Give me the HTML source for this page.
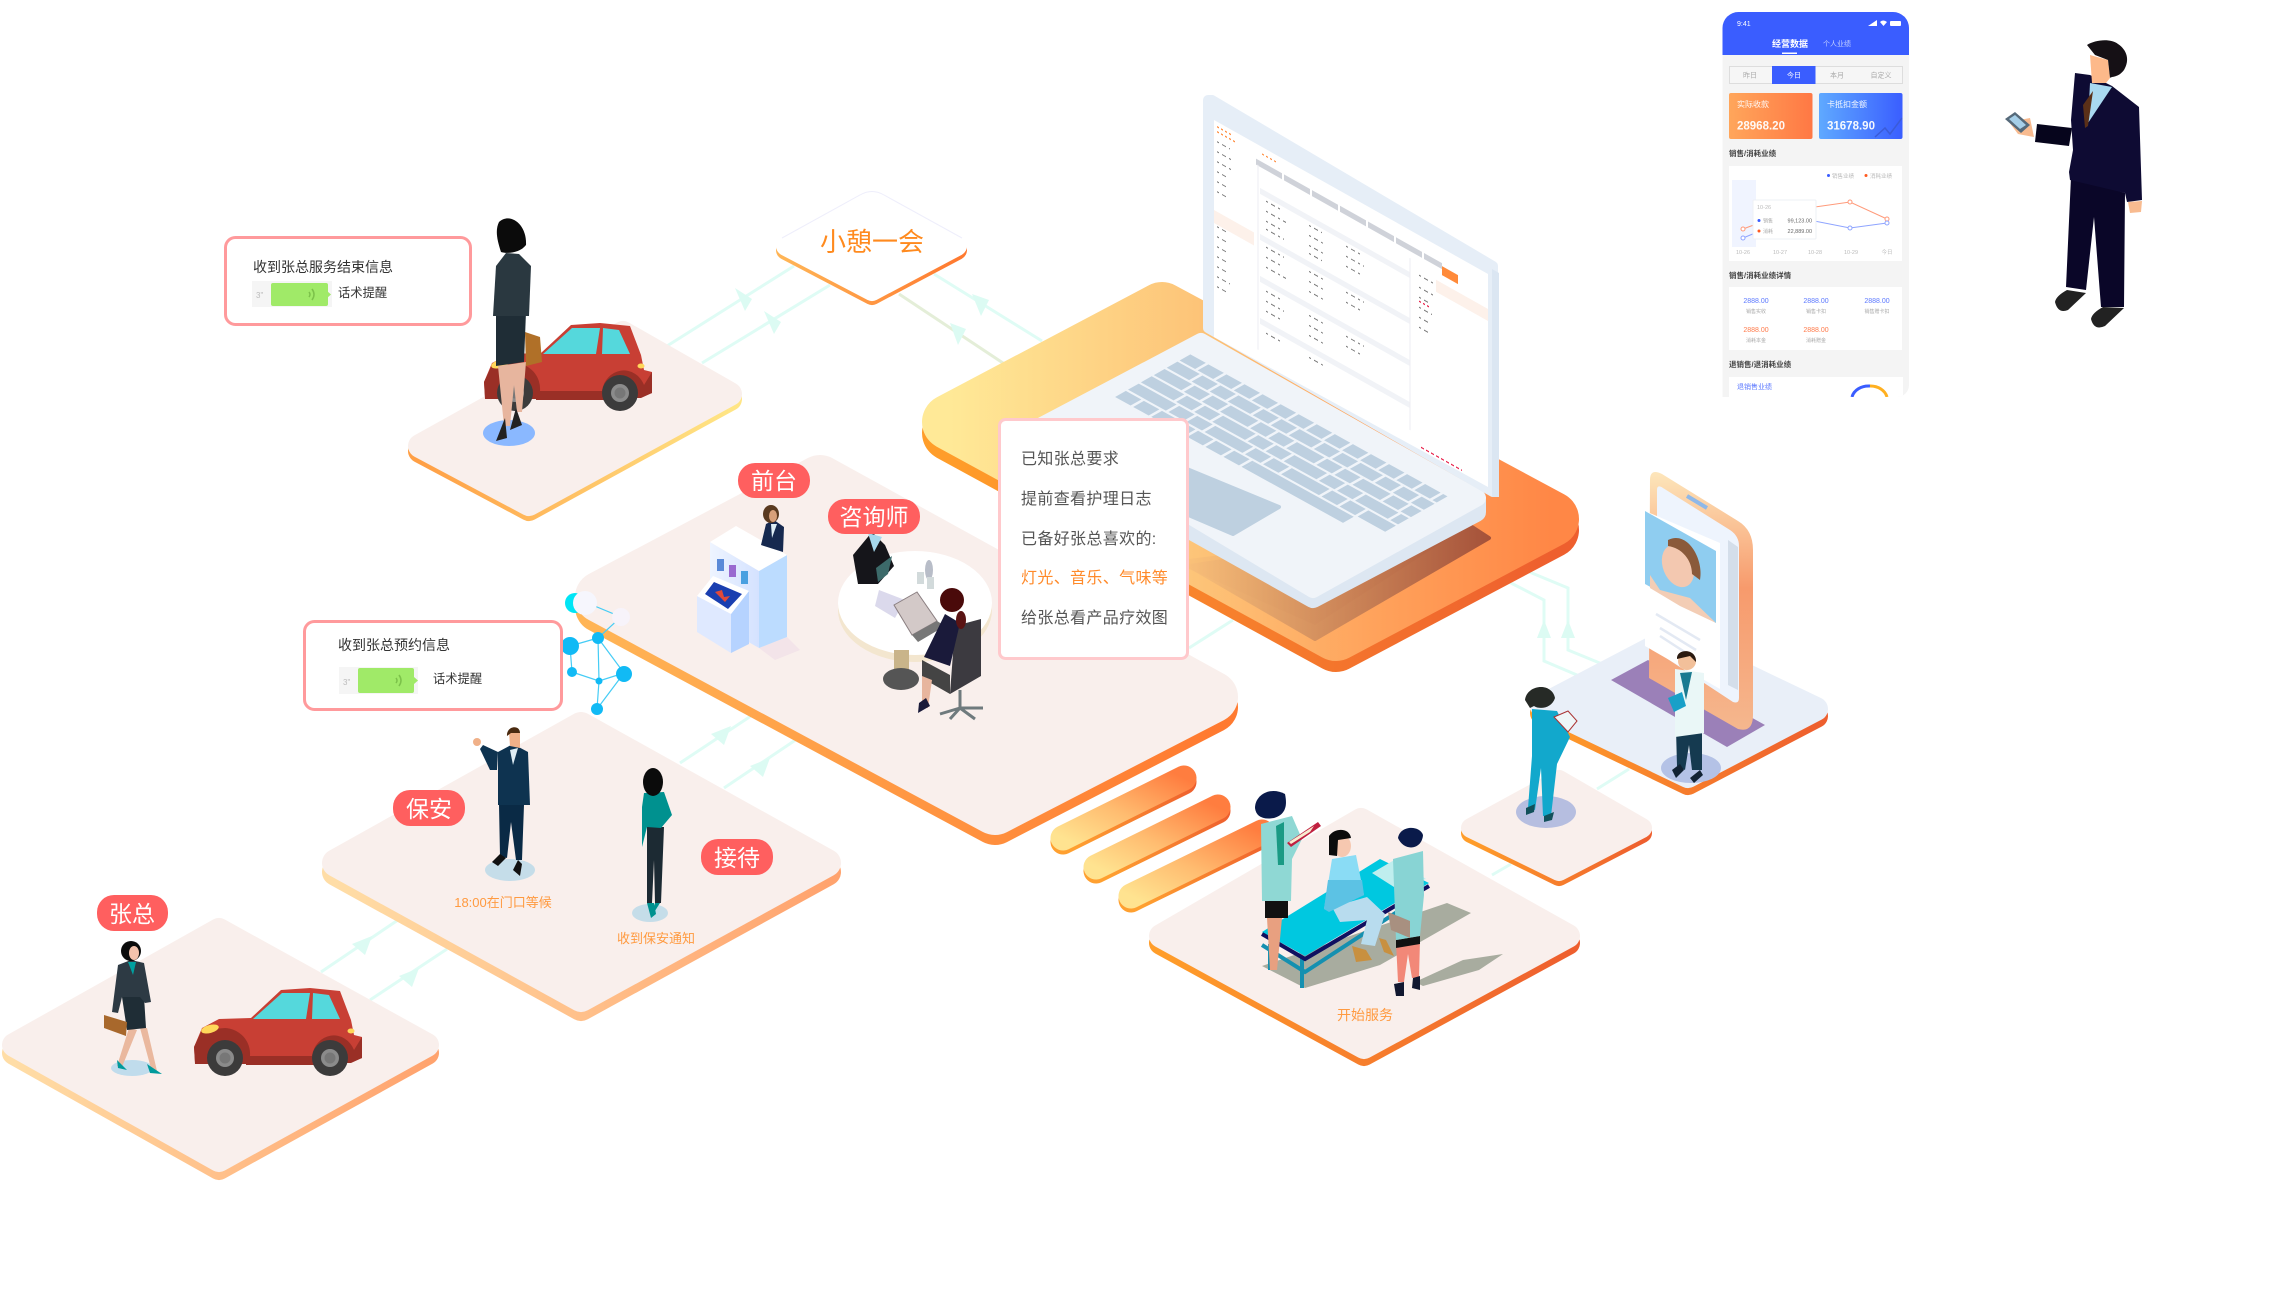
<!DOCTYPE html>
<html lang="zh"><head><meta charset="utf-8"><title>流程图</title>
<style>html,body{margin:0;padding:0;background:#fff}svg{display:block}text{font-family:"Liberation Sans","Noto Sans CJK SC",sans-serif}</style></head>
<body>
<svg xmlns="http://www.w3.org/2000/svg" width="2288" height="1316" viewBox="0 0 2288 1316">
<defs>
<linearGradient id="rA"><stop offset="0" stop-color="#ffdda6"/><stop offset="1" stop-color="#ffa36e"/></linearGradient>
<linearGradient id="rD"><stop offset="0" stop-color="#ff9f45"/><stop offset="1" stop-color="#ffe585"/></linearGradient>
<linearGradient id="rC"><stop offset="0" stop-color="#ffb455"/><stop offset="1" stop-color="#ff7a30"/></linearGradient>
<linearGradient id="rO"><stop offset="0" stop-color="#ff9d2a"/><stop offset="1" stop-color="#ee5f2e"/></linearGradient>
<linearGradient id="lap"><stop offset="0" stop-color="#ffe997"/><stop offset=".4" stop-color="#fdc579"/><stop offset=".7" stop-color="#ffa35c"/><stop offset="1" stop-color="#ff8746"/></linearGradient>
<linearGradient id="shd"><stop offset="0" stop-color="#f9c07a"/><stop offset="1" stop-color="#a5523a"/></linearGradient>
<linearGradient id="bar" x1="0" y1="1" x2="1" y2="0"><stop offset="0" stop-color="#ffe390"/><stop offset=".45" stop-color="#ffbc70"/><stop offset="1" stop-color="#ff7d3f"/></linearGradient>
<linearGradient id="brim" x1="0" y1="1" x2="1" y2="0"><stop offset="0" stop-color="#ffa030"/><stop offset="1" stop-color="#ee5f2e"/></linearGradient>
<linearGradient id="ph" x1="0" y1="0" x2="0" y2="1"><stop offset="0" stop-color="#fde6bb"/><stop offset=".45" stop-color="#f79a6c"/><stop offset="1" stop-color="#f5b78e"/></linearGradient>
<linearGradient id="og"><stop offset="0" stop-color="#ffa65b"/><stop offset="1" stop-color="#ff7844"/></linearGradient>
<linearGradient id="bg"><stop offset="0" stop-color="#5fa9ff"/><stop offset="1" stop-color="#3a5eff"/></linearGradient>
<linearGradient id="ki"><stop offset="0" stop-color="#eef4ff"/><stop offset="1" stop-color="#d4e2ff"/></linearGradient>
<clipPath id="pc"><path d="M1722.500 397V28a16 16 0 0 1 16-16h154.500a16 16 0 0 1 16 16V385a12 12 0 0 1-12 12z"/></clipPath>
<g id="car">
<path d="M194 1047L202 1028 219 1019 251 1018 281 990 310 988 340 991 351 1020 354 1035 362 1037V1058L351 1062H195z" fill="#c83f34"/>
<rect x="246" y="1056" width="70" height="9" fill="#9a2f26"/>
<path d="M194 1047L202 1030 225 1028A26 26 0 0 1 250 1056V1064H195z" fill="#9a2f26"/>
<path d="M312 1056A22 24 0 0 1 354 1050L362 1037V1058L351 1063H312z" fill="#9a2f26"/>
<path d="M253 1019L282 993 310 993 306 1019z" fill="#55d8dc"/>
<path d="M312 1019L313 993 329 995 340 1019z" fill="#55d8dc"/>
<circle cx="225" cy="1058" r="18" fill="#3c3b3b"/><circle cx="225" cy="1058" r="9" fill="#8b8b8b"/><circle cx="225" cy="1058" r="5.500" fill="#777"/>
<circle cx="330" cy="1058" r="18" fill="#3c3b3b"/><circle cx="330" cy="1058" r="9" fill="#8b8b8b"/><circle cx="330" cy="1058" r="5.500" fill="#777"/>
<ellipse cx="210" cy="1029" rx="9" ry="4" fill="#ffd75a" transform="rotate(-15 210 1029)"/>
<ellipse cx="351" cy="1031" rx="3.500" ry="2.500" fill="#ffd75a"/>
</g>
</defs>

<!-- connectors -->
<g fill="none" stroke="#dffcf5" stroke-width="3">
<path d="M321 972L398 920M370 1000L447 949M680 763L757 712M724 788L800 737M1189 648L1233 620M667 346L794 266M702 363L830 285M934 274L1042 341"/>
<path d="M899 294L1006 365" stroke="#e4eed8"/>
<path d="M1527 571L1568 588V650L1607 666M1509 582L1544 600V661L1584 678M1597 789L1629 769M1492 875L1511 864"/>
</g>
<g fill="#dcfbf3">
<path d="M372 936L352 944 365 955z"/><path d="M419 968L399 976 412 987z"/><path d="M731 726L711 734 724 745z"/><path d="M770 758L750 766 763 777z"/>
<path d="M735 288L745 311 752 299z"/><path d="M764 311L774 334 781 322z"/>
<path d="M972 294L981 316 989 300z"/><path d="M950 323L958 345 966 329z"/>
<path d="M1568 620L1561 638H1575z"/><path d="M1544 620L1537 638H1551z"/>
</g>

<!-- laptop platform -->
<g stroke-linejoin="round">
<polygon points="1162,310 1551,519 1336,633 950,422" transform="translate(0 11)" fill="url(#rO)" stroke="url(#rO)" stroke-width="56"/>
<polygon points="1162,310 1551,519 1336,633 950,422" fill="url(#lap)" stroke="url(#lap)" stroke-width="56"/>
</g>
<polygon points="1189,566 1469,525 1489,538 1315,639" fill="url(#shd)" stroke="url(#shd)" stroke-width="4" stroke-linejoin="round"/>
<path d="M1180 560L1469 525 1315 625 1180 565z" fill="url(#shd)" opacity=".5"/>

<!-- laptop -->
<g stroke-linejoin="round">
<polygon points="1040,432 1201,345 1476,501 1476,512 1313,598 1040,445" fill="#dde7f2" stroke="#dde7f2" stroke-width="20"/>
<polygon points="1040,426 1201,341 1478,498 1313,590" fill="#f0f4f9" stroke="#f0f4f9" stroke-width="16"/>
</g>
<g transform="matrix(.86 .475 -.86 .487 1191 354)" fill="none" stroke="#bed0e0" stroke-width="12.500">
<line x1="0" x2="299" y1="7" y2="7" stroke-dasharray="18 3"/>
<line x1="0" x2="299" y1="22" y2="22" stroke-dasharray="26 3 18 3 18 3"/>
<line x1="0" x2="299" y1="37" y2="37" stroke-dasharray="32 3 18 3 18 3"/>
<line x1="0" x2="299" y1="52" y2="52" stroke-dasharray="38 3 18 3 18 3"/>
<line x1="0" x2="299" y1="67" y2="67" stroke-dasharray="44 3 18 3 18 3"/>
<line x1="0" x2="150" y1="82" y2="82" stroke-dasharray="18 3"/>
<line x1="150" x2="265" y1="82" y2="82"/>
</g>
<polygon points="1130,490 1182,467 1279,507 1233,534" fill="#bed0e0" stroke="#bed0e0" stroke-width="4" stroke-linejoin="round"/>
<polygon points="1212,100 1493,266 1493,492 1208,328 1208,100" fill="#e6eef7" stroke="#e6eef7" stroke-width="10" stroke-linejoin="round"/>
<polygon points="1492,269 1499,273 1499,497 1492,497" fill="#dbe6f2"/>
<polygon points="1214,120 1488,274 1488,487 1214,337" fill="#fff"/>
<g transform="matrix(1 .562 0 1 1214 120)">
<line x1="42" x2="228" y1="18" y2="18" stroke="#cfd2d9" stroke-width="6" stroke-dasharray="26 2"/>
<rect x="228" y="18" width="16" height="9" fill="#ff8a3a"/>
<rect x="0" y="90" width="40" height="13" fill="#fdf1ea"/>
<rect x="222" y="35" width="52" height="12" fill="#fdf1ea"/>
<rect x="46" y="42" width="150" height="6" fill="#f1f3f7"/>
<rect x="46" y="88" width="150" height="6" fill="#f1f3f7"/>
<rect x="46" y="130" width="150" height="6" fill="#f1f3f7"/>
<rect x="46" y="172" width="150" height="6" fill="#f1f3f7"/>
<line x1="44" x2="44" y1="20" y2="205" stroke="#eeeef3"/>
<line x1="196" x2="196" y1="28" y2="200" stroke="#eeeef3"/>
<g stroke="#555" stroke-width="1.100" stroke-dasharray="2 3 4 3" opacity=".8">
<path d="M3 20H16M3 30H18M3 40H18M3 50H14M3 60H14M3 70H12M3 105H12M3 115H12M3 125H14M3 135H14M3 145H14M3 155H16M3 165H12"/>
<path d="M52 52H68M95 52H108M132 52H146M52 62H72M95 62H110M132 62H150M52 72H66M95 72H112M132 72H148M52 80H70M95 80H108"/>
<path d="M52 98H70M95 98H112M132 98H150M52 108H66M95 108H110M132 108H146M52 118H72M95 118H112"/>
<path d="M52 142H68M95 142H110M132 142H150M52 152H70M95 152H112M132 152H148M52 162H66M95 162H110"/>
<path d="M52 184H68M95 184H110M205 40H222M205 52H220M205 62H216M205 72H218M205 82H216M205 92H214"/>
</g>
<g stroke="#ff8a3a" stroke-width="1.300" stroke-dasharray="2 2"><path d="M3 5H18M3 10H22M48 7H62"/></g>
<path d="M207 211H248" stroke="#e8204a" stroke-width="1.300" stroke-dasharray="3 2"/>
<path d="M205 66H215" stroke="#e8204a" stroke-width="1.300" stroke-dasharray="2 2"/>
</g>

<!-- other platforms -->
<g stroke-linejoin="round">
<polygon points="219,930 427,1045 219,1160 14,1045" transform="translate(0 8)" fill="url(#rA)" stroke="url(#rA)" stroke-width="24"/>
<polygon points="219,930 427,1045 219,1160 14,1045" fill="#f9efec" stroke="#f9efec" stroke-width="24"/>
<polygon points="581,726 827,863 581,998 336,863" transform="translate(0 9)" fill="url(#rA)" stroke="url(#rA)" stroke-width="28"/>
<polygon points="581,726 827,863 581,998 336,863" fill="#f9efec" stroke="#f9efec" stroke-width="28"/>
<polygon points="820,481 1212,697 995,809 601,597" transform="translate(0 10)" fill="url(#rC)" stroke="url(#rC)" stroke-width="52"/>
<polygon points="820,481 1212,697 995,809 601,597" fill="#f9efec" stroke="#f9efec" stroke-width="52"/>
<polygon points="623,333 730,394 529,504 420,446" transform="translate(0 5)" fill="url(#rD)" stroke="url(#rD)" stroke-width="24"/>
<polygon points="623,333 730,394 529,504 420,446" fill="#f9efec" stroke="#f9efec" stroke-width="24"/>
<polygon points="872,200 957,246 872,291 786,246" transform="translate(0 4)" fill="url(#rC)" stroke="url(#rC)" stroke-width="20"/>
<polygon points="872,200 957,246 872,291 786,246" fill="#fff" stroke="#fff" stroke-width="20"/>
<polygon points="1670,639 1816,709 1688,776 1542,706" transform="translate(0 7)" fill="url(#rO)" stroke="url(#rO)" stroke-width="24"/>
<polygon points="1670,639 1816,709 1688,776 1542,706" fill="#e9eff8" stroke="#e9eff8" stroke-width="24"/>
<polygon points="1559,780 1642,828 1559,871 1471,828" transform="translate(0 5)" fill="url(#rO)" stroke="url(#rO)" stroke-width="20"/>
<polygon points="1559,780 1642,828 1559,871 1471,828" fill="#f9efec" stroke="#f9efec" stroke-width="20"/>
<polygon points="1361,820 1568,936 1364,1047 1161,936" transform="translate(0 7)" fill="url(#rO)" stroke="url(#rO)" stroke-width="24"/>
<polygon points="1361,820 1568,936 1364,1047 1161,936" fill="#f9efec" stroke="#f9efec" stroke-width="24"/>
</g>
<path d="M782 238L860 195Q872 188 884 195L962 238" fill="none" stroke="#eeeefb" stroke-width="1"/>

<!-- bars -->
<g fill="none" stroke-width="25" stroke-linecap="round">
<path d="M1063 842L1184 782" stroke="url(#brim)"/><path d="M1096 871L1218 811" stroke="url(#brim)"/><path d="M1131 900L1262 836" stroke="url(#brim)"/>
<path d="M1063 838L1184 778" stroke="url(#bar)"/>
<path d="M1096 867L1218 807" stroke="url(#bar)"/>
<path d="M1131 896L1262 832" stroke="url(#bar)"/>
</g>

<!-- car A + woman -->
<use href="#car"/>
<ellipse cx="132" cy="1068" rx="21" ry="8" fill="#c0dcec"/>
<path d="M129 1028L117 1066 122 1067 137 1030zM140 1028L152 1072 157 1071 147 1028z" fill="#eab89e"/>
<path d="M117 1060L118 1068 127 1070zM147 1064L162 1074 150 1073z" fill="#009a9c"/>
<path d="M122 997H144L146 1028 127 1030z" fill="#1f2d36"/>
<path d="M118 965L131 960 144 963 151 1002 145 1003 140 997H122L118 1013 112 1012z" fill="#2d3a44"/>
<path d="M128 962L136 962 133 975z" fill="#00a0a0"/>
<ellipse cx="131" cy="951" rx="10" ry="10" fill="#0c0c0c"/><ellipse cx="134" cy="953" rx="5" ry="7" fill="#f3c2ac"/>
<path d="M104 1015L127 1022 126 1036 104 1028z" fill="#a8682c"/>

<!-- security -->
<ellipse cx="510" cy="870" rx="25" ry="11" fill="#c5dde9"/>
<path d="M499 805H524L522 860 516 860 511 822 507 858 500 856z" fill="#0a2a45"/>
<path d="M498 752L513 744 528 752 530 805H498z" fill="#0e3350"/>
<path d="M498 752L483 745 480 749 490 770 497 770z" fill="#0e3350"/>
<circle cx="477" cy="742" r="4" fill="#f0b088"/>
<path d="M509 732H520L520 748 510 746z" fill="#f0b088"/><path d="M507 736C506 726 520 724 520 733L511 733z" fill="#4a2a10"/>
<path d="M510 750L518 748 513 765z" fill="#dfeef5"/>
<path d="M492 862L500 854 506 858 498 866zM513 870L518 860 522 864 520 876z" fill="#111"/>

<!-- reception -->
<ellipse cx="650" cy="913" rx="18" ry="9" fill="#c5dde9"/>
<path d="M647 827H664L661 903 655 903 654 860 652 903 647 903z" fill="#1c2a33"/>
<path d="M644 793L664 792 672 815 661 828 647 827 642 847 642 807z" fill="#00918f"/>
<ellipse cx="653" cy="782" rx="10" ry="14" fill="#0b0b0b"/>
<path d="M647 903L651 918 656 914 654 903zM655 903L653 914 660 903z" fill="#00918f"/>

<!-- car B + woman -->
<g transform="translate(290 -665)"><use href="#car"/></g>
<ellipse cx="509" cy="433" rx="26" ry="13" fill="#8ab8ff"/>
<path d="M498 366L526 362 522 412 517 412 514 385 510 426 504 426z" fill="#e7b59e"/>
<path d="M505 418L496 441 507 438zM516 408L510 430 522 425z" fill="#222"/>
<path d="M525 332L540 337 542 362 526 366z" fill="#b07028"/>
<path d="M496 314L526 312 524 362 496 366z" fill="#1f2d36"/>
<path d="M506 253L519 254 531 266 529 316 493 316 496 266z" fill="#2a3840"/>
<path d="M499 222C510 212 527 224 526 245 520 253 507 254 501 252 497 240 495 230 499 222z" fill="#0b0b0b"/>

<!-- rest label -->
<text x="872" y="251" font-size="26" fill="#ff8a1e" text-anchor="middle">小憩一会</text>

<!-- round table & people -->
<ellipse cx="915" cy="610" rx="77" ry="52" fill="#f3e6cf"/>
<ellipse cx="915" cy="603" rx="77" ry="52" fill="#fff"/>
<rect x="894" y="650" width="15" height="26" fill="#c9b48a"/>
<ellipse cx="901" cy="679" rx="18" ry="11" fill="#555"/>
<path d="M879 590L905 600 895 618 875 606z" fill="#dbd9ec"/>
<ellipse cx="929" cy="570" rx="4" ry="10" fill="#b8bdc8"/>
<rect x="917" y="572" width="7" height="12" fill="#d2dadb"/><rect x="927" y="577" width="7" height="12" fill="#d2dadb"/>
<path d="M853 555L872 532 885 545 894 566 878 584 858 584z" fill="#15151a"/>
<path d="M868 533L882 537 874 552z" fill="#a6d8ec"/>
<path d="M876 568L892 556 888 574 878 582z" fill="#3c6a6a"/>
<polygon points="894,605 917,592 937,621 912,635" fill="#d3c9c8" stroke="#8a7e80"/>
<polygon points="912,635 937,621 945,626 918,642" fill="#777"/>
<path d="M922 660L950 675 950 694 922 678z" fill="#444"/>
<path d="M922 676V708L928 708 932 680z" fill="#e7b59e"/>
<path d="M919 703L926 698 930 706 918 713z" fill="#1a1a3a"/>
<path d="M955 626L981 619 981 676 950 694z" fill="#3c3a40"/>
<path d="M945 614L960 623 950 666 924 657z" fill="#1a1a3a"/>
<circle cx="952" cy="600" r="12" fill="#4a0a0a"/>
<ellipse cx="961" cy="620" rx="5" ry="9" fill="#5a1414"/>
<g stroke="#6f7a7d" stroke-width="3" fill="none"><path d="M960 690V708M960 708L940 714M960 708L983 708M960 708L975 719M960 708L950 719"/></g>

<!-- kiosk -->
<path d="M759 648L787 637 800 650 775 660z" fill="#f3e4e9"/>
<polygon points="710,542 759,571 759,648 710,620" fill="url(#ki)"/>
<polygon points="759,571 787,555 787,637 759,648" fill="#bcdcff"/>
<polygon points="710,542 736,526 787,555 759,571" fill="#fff"/>
<polygon points="731,614 749,591 749,644 731,653" fill="#b6d3ff"/>
<polygon points="697,596 731,614 731,653 697,632" fill="#dfe9ff"/>
<polygon points="713,576 749,591 731,614 697,596" fill="#fff"/>
<polygon points="714,582 742,594 728,609 705,594" fill="#1a3fb0"/>
<path d="M715 592L722 590 724 597 730 596 725 602z" fill="#e04a3a"/>
<rect x="717" y="559" width="7" height="12" fill="#5a8ad8"/><rect x="729" y="565" width="7" height="12" fill="#9a6ad0"/><rect x="741" y="571" width="7" height="13" fill="#4aa0e0"/>
<path d="M761 545L766 524 774 520 784 527 783 552z" fill="#16294f"/>
<ellipse cx="771" cy="514" rx="8" ry="9" fill="#5a3a20"/><ellipse cx="773" cy="516" rx="4" ry="6" fill="#d8a07a"/>
<path d="M771 524L777 524 772 538z" fill="#dfeef5"/>

<!-- molecule -->
<g fill="none" stroke="#45ccf5" stroke-width="1.200">
<path d="M570 646L598 638 624 673 599 681 572 672 570 646M598 638L599 681M624 673L597 709 599 681M598 638L621 617 585 602"/>
</g>
<g fill="#11baf5">
<circle cx="570" cy="646" r="9"/><circle cx="598" cy="638" r="6"/><circle cx="572" cy="672" r="5"/><circle cx="599" cy="681" r="3.500"/><circle cx="624" cy="674" r="8"/><circle cx="597" cy="709" r="6"/>
</g>
<circle cx="575" cy="603" r="10" fill="#00e5f5"/><circle cx="585" cy="603" r="12" fill="#f6f6fd"/><circle cx="621" cy="617" r="9" fill="#f7f3fa"/>

<!-- info boxes -->
<g fill="#fff" stroke="#ff9a9c" stroke-width="3">
<rect x="225.500" y="237.500" width="245" height="87" rx="10"/>
<rect x="304.500" y="621.500" width="257" height="88" rx="10"/>
</g>
<text x="253" y="272" font-size="14" fill="#333">收到张总服务结束信息</text>
<rect x="252" y="281" width="80" height="26" fill="#f5f5f5"/><rect x="271" y="283" width="57" height="23" rx="2" fill="#a0ea68"/>
<path d="M327 291L331 294.500 327 298z" fill="#a0ea68"/><path d="M312 289Q316 294.500 312 300M309 292Q311 294.500 309 297" fill="none" stroke="#7cc24a" stroke-width="1.500"/>
<text x="256" y="298" font-size="8" fill="#bbb">3"</text>
<text x="338" y="297" font-size="12.300" fill="#333">话术提醒</text>
<text x="338" y="650" font-size="14" fill="#333">收到张总预约信息</text>
<rect x="339" y="667" width="79" height="27" fill="#f5f5f5"/><rect x="358" y="668" width="56" height="25" rx="2" fill="#a0ea68"/>
<path d="M414 677L418 680.500 414 684z" fill="#a0ea68"/><path d="M399 675Q403 680.500 399 686M396 678Q398 680.500 396 683" fill="none" stroke="#7cc24a" stroke-width="1.500"/>
<text x="343" y="685" font-size="8" fill="#bbb">3"</text>
<text x="433" y="683" font-size="12.300" fill="#333">话术提醒</text>

<!-- pills -->
<g fill="#ff5f5f">
<rect x="738" y="463" width="72" height="35" rx="17"/><rect x="828" y="499" width="92" height="35" rx="17"/>
<rect x="393" y="790" width="72" height="36" rx="17"/><rect x="701" y="839" width="72" height="36" rx="17"/><rect x="97" y="895" width="71" height="36" rx="17"/>
</g>
<g fill="#fff" font-size="23" text-anchor="middle">
<text x="774" y="489">前台</text><text x="874" y="525">咨询师</text><text x="429" y="817">保安</text><text x="737" y="866">接待</text><text x="132" y="922">张总</text>
</g>
<g fill="#ff9a40" font-size="13" text-anchor="middle">
<text x="503" y="907">18:00在门口等候</text><text x="656" y="943">收到保安通知</text>
<text x="1365" y="1020" font-size="14">开始服务</text>
</g>

<!-- card -->
<rect x="999.500" y="419.500" width="188" height="239" rx="6" fill="#fff" stroke="#ffc9cc" stroke-width="3"/>
<g font-size="16" fill="#555" letter-spacing=".35">
<text x="1021" y="464">已知张总要求</text><text x="1021" y="504">提前查看护理日志</text><text x="1021" y="544">已备好张总喜欢的:</text>
<text x="1021" y="583" fill="#ff8a2a">灯光、音乐、气味等</text><text x="1021" y="623">给张总看产品疗效图</text>
</g>

<!-- display phone -->
<polygon points="1611,680 1648,660 1765,725 1727,747" fill="#9b80b8"/>
<path d="M1650 480Q1650 468 1662 474L1738 521Q1753 530 1753 550V715Q1753 733 1738 729L1649 678z" fill="url(#ph)"/>
<path d="M1657 490Q1657 484 1663 488L1730 530Q1739 536 1739 546V698Q1739 704 1733 702L1657 652z" fill="#eef4fd"/>
<path d="M1728 540L1738 547V690L1728 685z" fill="#d4deea"/>
<path d="M1645 511L1720 543V689L1645 646z" fill="#fff"/>
<path d="M1645 511L1716 551V623L1645 584z" fill="#8fcdf0"/>
<ellipse cx="1678" cy="566" rx="15" ry="22" fill="#f3c8b0" transform="rotate(-22 1678 566)"/>
<path d="M1668 540C1688 530 1704 560 1700 580L1692 574C1692 560 1682 548 1668 546z" fill="#8a5a3a"/>
<path d="M1650 575L1660 590 1690 598 1716 623 1680 606 1650 588z" fill="#f3cdb5"/>
<path d="M1687 496L1707 508" stroke="#8fb8e8" stroke-width="4"/>
<path d="M1656 614L1700 640M1660 628L1696 650M1660 636L1694 658" stroke="#e3e9f3" stroke-width="2.500" fill="none"/>

<!-- doctor -->
<ellipse cx="1691" cy="768" rx="30" ry="15" fill="#b4c2e6"/>
<path d="M1676 729H1702L1702 770 1692 770 1689 745 1685 770 1677 766z" fill="#153a50"/>
<path d="M1675 669L1704 673 1704 733 1675 737z" fill="#eaf7f7"/>
<path d="M1668 698L1682 692 1686 706 1674 712z" fill="#18a0c8"/>
<circle cx="1687" cy="661" r="9" fill="#f2c09a"/><path d="M1677 659C1676 648 1697 648 1696 662L1690 656z" fill="#2a1a10"/>
<path d="M1680 673L1692 672 1686 700z" fill="#1a7a90"/>
<path d="M1672 770L1680 764 1684 770 1676 778zM1690 778L1700 770 1703 775 1694 783z" fill="#123"/>

<!-- nurse -->
<ellipse cx="1546" cy="812" rx="30" ry="16" fill="#b6bee0"/>
<path d="M1532 709L1557 711 1570 737 1557 764 1551 816 1543 816 1541 768 1535 810 1528 808 1532 756z" fill="#12a8cc"/>
<path d="M1554 717L1568 711 1577 721 1568 732z" fill="#eef6f8" stroke="#a33"/>
<path d="M1525 700C1527 684 1552 682 1555 698 1552 708 1540 710 1534 706L1530 708z" fill="#262a26"/>
<path d="M1526 808L1535 804 1534 812 1526 815zM1544 816L1554 812 1552 820 1544 822z" fill="#12505a"/>

<!-- service scene -->
<path d="M1262 966L1447 903 1471 913 1380 965 1305 988z" fill="#a8ac9f"/>
<path d="M1415 982L1463 960 1503 954 1479 970 1423 986z" fill="#a8ac9f"/>
<path d="M1270 944V970M1302 956V988M1262 945L1305 972 1400 910" fill="none" stroke="#1590b0" stroke-width="4"/>
<path d="M1262 932L1380 859 1429 883 1305 956z" fill="#00c8e0"/>
<path d="M1262 934L1305 959 1429 886" fill="none" stroke="#101060" stroke-width="4"/>
<path d="M1372 873L1396 859 1426 879 1394 887z" fill="#bfeeee"/>
<path d="M1265 901H1288V918H1265z" fill="#111"/>
<path d="M1267 918H1282L1277 970 1270 970z" fill="#e8a080"/>
<path d="M1261 824L1292 816 1302 839 1292 859 1291 901 1262 901z" fill="#8fd8d4"/>
<path d="M1276 826L1284 822 1284 865 1278 865z" fill="#1a9a84"/>
<path d="M1255 808C1255 795 1270 786 1285 794 1288 808 1284 815 1274 818 1262 820 1256 816 1255 808z" fill="#0a1a4a"/>
<path d="M1287 843L1318 822 1321 826 1291 847z" fill="#c02040"/><path d="M1289 842L1314 826 1310 832 1291 844z" fill="#f8ecd0"/>
<path d="M1332 907L1367 897 1385 914 1375 946 1361 944 1367 920 1340 922z" fill="#b8dcee"/>
<path d="M1352 946L1366 950 1372 960 1356 962zM1379 938L1386 940 1394 956 1384 952z" fill="#c89040"/>
<path d="M1324 909L1332 859 1356 855 1364 895 1329 910z" fill="#8adcf5"/>
<path d="M1324 909L1328 880 1362 880 1364 895 1329 912z" fill="#5cc2e4"/>
<ellipse cx="1342" cy="846" rx="9" ry="11" fill="#f6c8b0"/>
<path d="M1329 855V836C1335 827 1350 828 1351 838L1338 840 1337 856z" fill="#0c0c0c"/>
<path d="M1396 942L1420 940 1419 978 1412 978 1408 954 1404 982 1398 982z" fill="#f28878"/>
<path d="M1396 940V948L1420 944V936z" fill="#111"/>
<path d="M1394 984L1404 982 1404 996 1396 996zM1413 978L1420 976 1420 990 1412 988z" fill="#111830"/>
<path d="M1393 859L1423 851 1424 895 1420 936 1396 940z" fill="#88d4d4"/>
<path d="M1388 912L1410 921 1410 938 1391 930z" fill="#a89080"/>
<path d="M1398 838C1400 825 1420 825 1423 835 1422 850 1404 852 1398 838z" fill="#0a1a4a"/>

<!-- app phone -->
<g clip-path="url(#pc)">
<rect x="1722" y="12" width="187" height="385" fill="#f4f4f4"/>
<rect x="1722" y="12" width="187" height="43" fill="#3a5dff"/>
<text x="1737" y="26" font-size="7" fill="#fff">9:41</text>
<rect x="1890" y="21" width="11" height="5" rx="1" fill="#fff"/><path d="M1868 26H1877V20z" fill="#fff"/><path d="M1880 22Q1883 19 1887 22L1883.500 26z" fill="#fff"/>
<text x="1772" y="47" font-size="9" font-weight="700" fill="#fff">经营数据</text>
<text x="1823" y="46" font-size="7" fill="#c3d0ff">个人业绩</text>
<rect x="1782" y="52.500" width="15" height="1.500" fill="#fff"/>
<rect x="1729.500" y="66.500" width="173" height="17" fill="#f6f6f6" stroke="#ddd"/>
<rect x="1772" y="66" width="43.500" height="18" fill="#3a5dff"/>
<g font-size="7" text-anchor="middle" fill="#aaa"><text x="1750" y="77.500">昨日</text><text x="1794" y="77.500" fill="#fff">今日</text><text x="1837" y="77.500">本月</text><text x="1881" y="77.500">自定义</text></g>
<rect x="1729" y="93" width="83.500" height="46" rx="2" fill="url(#og)"/><rect x="1819" y="93" width="83.500" height="46" rx="2" fill="url(#bg)"/>
<path d="M1875 137L1885 128 1890 134 1902 118" fill="none" stroke="#3a5bd8" stroke-width="1.500"/>
<g fill="#fff" opacity=".95"><text x="1737" y="107" font-size="8">实际收款</text><text x="1827" y="107" font-size="8">卡抵扣金额</text>
<text x="1737" y="129.500" font-size="11.500" font-weight="700">28968.20</text><text x="1827" y="129.500" font-size="11.500" font-weight="700">31678.90</text></g>
<g font-size="7.500" font-weight="700" fill="#444"><text x="1729" y="156">销售/消耗业绩</text><text x="1729" y="278">销售/消耗业绩详情</text><text x="1729" y="367">退销售/退消耗业绩</text></g>
<rect x="1729" y="166" width="173" height="95" fill="#fff"/>
<rect x="1732" y="180" width="24" height="67" fill="#f0f4ff"/>
<circle cx="1828.500" cy="175.500" r="1.500" fill="#3a5dff"/><circle cx="1866" cy="175.500" r="1.500" fill="#ff5a20"/>
<text x="1832" y="178" font-size="5.500" fill="#bbb">销售业绩</text><text x="1870" y="178" font-size="5.500" fill="#bbb">消耗业绩</text>
<path d="M1743 229L1794 210 1850 202 1887 219" fill="none" stroke="#ff9a7a" stroke-width="1"/>
<path d="M1743 238L1794 217 1850 228 1887 223" fill="none" stroke="#8ea4ff" stroke-width="1"/>
<g fill="#fff" stroke-width="1"><circle cx="1743" cy="229" r="2" stroke="#ff9a7a"/><circle cx="1850" cy="202" r="2" stroke="#ff9a7a"/><circle cx="1887" cy="219" r="2" stroke="#ff9a7a"/><circle cx="1743" cy="238" r="2" stroke="#8ea4ff"/><circle cx="1850" cy="228" r="2" stroke="#8ea4ff"/><circle cx="1887" cy="223" r="2" stroke="#8ea4ff"/></g>
<rect x="1753" y="200" width="63" height="39" rx="1" fill="#fff" stroke="#eef0f5"/>
<text x="1757" y="209" font-size="5.500" fill="#bbb">10-26</text>
<circle cx="1759" cy="220.500" r="1.500" fill="#3a5dff"/><circle cx="1759" cy="231" r="1.500" fill="#ff5a20"/>
<text x="1763" y="222.500" font-size="5" fill="#aaa">销售</text><text x="1763" y="233" font-size="5" fill="#aaa">消耗</text>
<text x="1812" y="222.500" font-size="5.500" fill="#666" text-anchor="end">99,123.00</text><text x="1812" y="233" font-size="5.500" fill="#666" text-anchor="end">22,889.00</text>
<g font-size="5.500" fill="#bbb" text-anchor="middle"><text x="1743" y="254">10-26</text><text x="1780" y="254">10-27</text><text x="1815" y="254">10-28</text><text x="1851" y="254">10-29</text><text x="1887" y="254">今日</text></g>
<rect x="1729" y="287" width="173" height="63" fill="#fff"/>
<g font-size="7" text-anchor="middle" fill="#5b78ff"><text x="1756" y="303">2888.00</text><text x="1816" y="303">2888.00</text><text x="1877" y="303">2888.00</text></g>
<g font-size="7" text-anchor="middle" fill="#ff7a4a"><text x="1756" y="332">2888.00</text><text x="1816" y="332">2888.00</text></g>
<g font-size="5" text-anchor="middle" fill="#aaa"><text x="1756" y="313">销售实收</text><text x="1816" y="313">销售卡扣</text><text x="1877" y="313">销售赠卡扣</text><text x="1756" y="342">消耗本金</text><text x="1816" y="342">消耗赠金</text></g>
<rect x="1729" y="377" width="174" height="30" fill="#fff"/>
<text x="1737" y="389" font-size="7" fill="#5b78ff">退销售业绩</text>
<path d="M1852 397A17 14 0 0 1 1870 386" fill="none" stroke="#3a5dff" stroke-width="3"/>
<path d="M1870 386A17 14 0 0 1 1887 397" fill="none" stroke="#ffb020" stroke-width="3"/>
</g>

<!-- man -->
<path d="M2071 177L2125 193 2124 307 2101 307 2094 217 2086 290 2066 287z" fill="#0a0628"/>
<path d="M2055 302Q2056 296 2067 290L2086 293 2068 310Q2058 314 2055 302zM2091 319Q2092 313 2103 307L2124 308 2105 326Q2094 331 2091 319z" fill="#222"/>
<path d="M2128 202L2142 201 2141 212 2130 213z" fill="#f8bb90"/>
<path d="M2037 124L2072 128 2069 146 2035 142z" fill="#06051c"/>
<path d="M2075 73L2090 75 2112 86 2139 107 2142 200 2127 202 2125 193 2070 180 2069 172 2073 150 2071 120z" fill="#0e0b33"/>
<path d="M2090 83L2112 87 2088 123z" fill="#a9d9f0"/>
<path d="M2093 91L2083 105 2085 128 2088 126z" fill="#5a3018"/>
<path d="M2009 122L2030 118 2034 137 2018 134z" fill="#f8bb90"/>
<path d="M2005 119L2015 112 2030 125 2021 133z" fill="#566a7a"/><path d="M2009 119L2015 115 2026 125 2020 129z" fill="#a6cfe8"/>
<path d="M2090 55L2108 60 2110 78 2106 83 2092 83z" fill="#fdb98a"/>
<path d="M2087 45C2095 40 2110 38 2118 44 2127 50 2130 60 2124 70 2118 78 2112 76 2110 78L2108 60 2095 55z" fill="#151015"/>
</svg>
</body></html>
